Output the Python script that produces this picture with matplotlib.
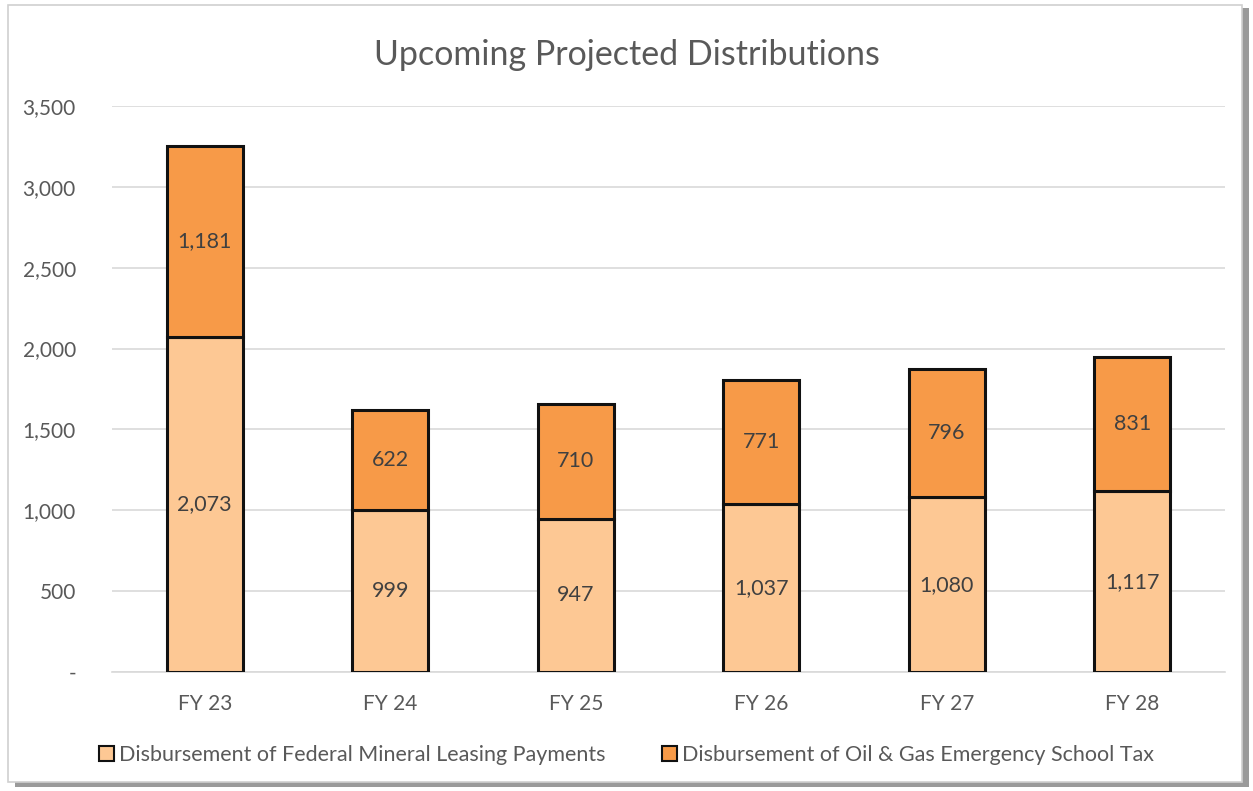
import matplotlib
matplotlib.use("Agg")
import matplotlib.pyplot as plt
from matplotlib.patches import Rectangle
from matplotlib.ticker import FuncFormatter

categories = ["FY 23", "FY 24", "FY 25", "FY 26", "FY 27", "FY 28"]
federal = [2073, 999, 947, 1037, 1080, 1117]
oil_gas = [1181, 622, 710, 771, 796, 831]
series_names = ["Disbursement of Federal Mineral Leasing Payments",
                "Disbursement of Oil & Gas Emergency School Tax"]

plt.rcParams['font.family'] = ['Lato', 'DejaVu Sans']
txt = '#595959'
c_light = '#FDC894'
c_dark = '#F79A48'

fig = plt.figure(figsize=(12.53, 7.91), dpi=100)
# border with shadow
fig.patches.append(Rectangle((0.012, 0.005), 0.985, 0.985, transform=fig.transFigure,
                             facecolor='#9a9a9a', edgecolor='none', zorder=-2))
fig.patches.append(Rectangle((0.006, 0.012), 0.985, 0.982, transform=fig.transFigure,
                             facecolor='white', edgecolor='#d0d0d0', linewidth=1.2, zorder=-1))

ax = fig.add_axes([112/1253, 1 - 672/791, (1225-112)/1253, (672-106)/791])
x = list(range(len(categories)))
w = 0.41
ax.bar(x, federal, width=w, color=c_light, edgecolor='#111111', linewidth=2.2, zorder=3)
ax.bar(x, oil_gas, width=w, bottom=federal, color=c_dark, edgecolor='#111111', linewidth=2.2, zorder=3)

for i in x:
    ax.text(i, federal[i] / 2, f"{federal[i]:,}", ha='center', va='center', fontsize=15.5, color='#404040', zorder=4)
    ax.text(i, federal[i] + oil_gas[i] / 2, f"{oil_gas[i]:,}", ha='center', va='center', fontsize=15.5, color='#404040', zorder=4)

ax.set_xlim(-0.5, len(categories) - 0.5)
ax.set_ylim(0, 3500)
ax.set_yticks(range(0, 3501, 500))
ax.yaxis.set_major_formatter(FuncFormatter(lambda v, p: '-' if v == 0 else f"{int(v):,}"))
ax.set_xticks(x)
ax.set_xticklabels(categories)
ax.grid(axis='y', color='#d9d9d9', linewidth=1.2, zorder=0)
for s in ['top', 'right', 'left']:
    ax.spines[s].set_visible(False)
ax.spines['bottom'].set_color('#d9d9d9')
ax.spines['bottom'].set_linewidth(1.2)
ax.tick_params(axis='both', length=0, labelsize=15, labelcolor=txt)
ax.tick_params(axis='y', pad=26)
ax.tick_params(axis='x', pad=16)

fig.text(0.5, 1 - 55/791, "Upcoming Projected Distributions", ha='center', va='center',
         fontsize=24.5, color=txt)

handles = [Rectangle((0, 0), 1, 1, facecolor=c_light, edgecolor='#111111', linewidth=1.5),
           Rectangle((0, 0), 1, 1, facecolor=c_dark, edgecolor='#111111', linewidth=1.5)]
fig.legend(handles, series_names, loc='center', bbox_to_anchor=(0.5, 1 - 755/791), ncol=2,
           frameon=False, fontsize=15.5, labelcolor=txt, handlelength=0.7, handleheight=0.7,
           handletextpad=0.25, columnspacing=2.6)

fig.savefig("out.png", dpi=100)
